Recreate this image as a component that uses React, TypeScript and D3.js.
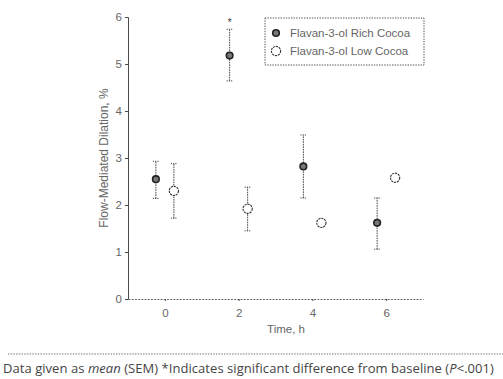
import { useEffect, useRef } from 'react';
import * as d3 from 'd3';

const hours = [0, 2, 4, 6];
const richMean = [2.55, 5.18, 2.82, 1.62];
const richLow = [2.14, 4.64, 2.15, 1.06];
const richHigh = [2.93, 5.74, 3.49, 2.15];
const lowMean = [2.3, 1.92, 1.62, 2.58];
const lowLow = [1.72, 1.45, null, null];
const lowHigh = [2.88, 2.38, null, null];
const significant = [false, true, false, false];
const yTicks = [0, 1, 2, 3, 4, 5, 6];
const seriesNames = ['Flavan-3-ol Rich Cocoa', 'Flavan-3-ol Low Cocoa'];

const W = 503;
const H = 379;

export default function App() {
  const svgRef = useRef<SVGSVGElement>(null);

  useEffect(() => {
    if (!svgRef.current) return;
    const svg = d3.select(svgRef.current);
    svg.selectAll('*').remove();

    const ink = '#4a4a4a';
    const txt = '#666';
    const font = '"Liberation Sans", Arial, sans-serif';
    const dash = '1.6,0.9';

    const x = d3.scaleLinear().domain([-1, 7]).range([128, 423]);
    const y = d3.scaleLinear().domain([0, 6]).range([299, 17]);

    const g = svg.append('g');

    // axes
    const yAxis = g
      .append('g')
      .attr('transform', `translate(${x(-1)},0)`)
      .call(d3.axisLeft(y).tickValues(yTicks).tickSize(3).tickFormat(d3.format('d')));
    yAxis.select('.domain').attr('stroke', ink).attr('stroke-width', 1);
    yAxis.selectAll('.tick line').attr('stroke', ink);
    yAxis
      .selectAll('text')
      .attr('fill', txt)
      .style('font-size', '11.5px')
      .style('font-family', font)
      .attr('x', -6);

    const xAxis = g
      .append('g')
      .attr('transform', `translate(0,${y(0)})`)
      .call(d3.axisBottom(x).tickValues(hours).tickSize(2).tickSizeOuter(0));
    xAxis.select('.domain').attr('stroke', '#666').attr('stroke-dasharray', '2,1.2');
    xAxis.selectAll('.tick line').attr('stroke', ink);
    xAxis
      .selectAll('text')
      .attr('fill', txt)
      .attr('y', 10)
      .style('font-size', '11.5px')
      .style('font-family', font);

    // axis labels
    g.append('text')
      .attr('transform', `translate(108,${y(3)}) rotate(-90)`)
      .attr('text-anchor', 'middle')
      .attr('fill', txt)
      .style('font-size', '12px')
      .style('font-family', font)
      .text('Flow-Mediated Dilation, %');

    g.append('text')
      .attr('x', 286)
      .attr('y', 333)
      .attr('text-anchor', 'middle')
      .attr('fill', txt)
      .style('font-size', '11.5px')
      .style('font-family', font)
      .text('Time, h');

    const off = 9;
    const errBar = (cx: number, lo: number, hi: number) => {
      g.append('line')
        .attr('x1', cx).attr('x2', cx)
        .attr('y1', y(lo)).attr('y2', y(hi))
        .attr('stroke', ink).attr('stroke-width', 1).attr('stroke-dasharray', dash);
      for (const v of [lo, hi]) {
        g.append('line')
          .attr('x1', cx - 3).attr('x2', cx + 3)
          .attr('y1', y(v)).attr('y2', y(v))
          .attr('stroke', ink).attr('stroke-width', 1).attr('stroke-dasharray', '1.2,1');
      }
    };

    hours.forEach((h, i) => {
      const cx = x(h) - off;
      errBar(cx, richLow[i], richHigh[i]);
      const lo = lowLow[i];
      const hi = lowHigh[i];
      if (lo != null && hi != null) errBar(x(h) + off, lo, hi);
    });

    const richMark = (cx: number, cy: number) => {
      g.append('circle')
        .attr('cx', cx).attr('cy', cy).attr('r', 3.3)
        .attr('fill', '#777').attr('stroke', '#222').attr('stroke-width', 1.6);
    };
    const lowMark = (cx: number, cy: number) => {
      g.append('circle')
        .attr('cx', cx).attr('cy', cy).attr('r', 4.6)
        .attr('fill', '#fff').attr('stroke', '#333').attr('stroke-width', 1.1)
        .attr('stroke-dasharray', '2.2,0.8');
    };

    hours.forEach((h, i) => {
      richMark(x(h) - off, y(richMean[i]));
      lowMark(x(h) + off, y(lowMean[i]));
      if (significant[i]) {
        g.append('text')
          .attr('x', x(h) - off)
          .attr('y', y(richHigh[i]) - 3)
          .attr('text-anchor', 'middle')
          .attr('fill', '#333')
          .style('font-size', '10px')
          .style('font-family', font)
          .text('*');
      }
    });

    // legend
    const lg = g.append('g').attr('transform', 'translate(265,18)');
    lg.append('rect')
      .attr('width', 159).attr('height', 47)
      .attr('fill', 'none').attr('stroke', '#555').attr('stroke-dasharray', '1.4,1.2');
    seriesNames.forEach((name, i) => {
      const cy = 15 + i * 18;
      if (i === 0) richMark(276, 18 + cy); else lowMark(276, 18 + cy);
      lg.append('text')
        .attr('x', 25).attr('y', cy + 4)
        .attr('fill', txt)
        .style('font-size', '11.5px')
        .style('font-family', font)
        .text(name);
    });

    // footer
    g.append('line')
      .attr('x1', 8).attr('x2', W).attr('y1', 354).attr('y2', 354)
      .attr('stroke', '#777').attr('stroke-dasharray', '1.5,1.2');

    const foot = g.append('text')
      .attr('x', 3).attr('y', 373)
      .attr('fill', '#444')
      .style('font-size', '13px')
      .style('font-family', '"Open Sans", sans-serif')
      .style('letter-spacing', '0.05px');
    foot.append('tspan').text('Data given as ');
    foot.append('tspan').style('font-style', 'italic').text('mean');
    foot.append('tspan').text(' (SEM)  *Indicates significant difference from baseline (');
    foot.append('tspan').style('font-style', 'italic').text('P');
    foot.append('tspan').text('<.001)');
  }, []);

  return (
    <svg
      ref={svgRef}
      width={W}
      height={H}
      style={{ position: 'absolute', left: 0, top: 0, background: '#fff' }}
    />
  );
}
